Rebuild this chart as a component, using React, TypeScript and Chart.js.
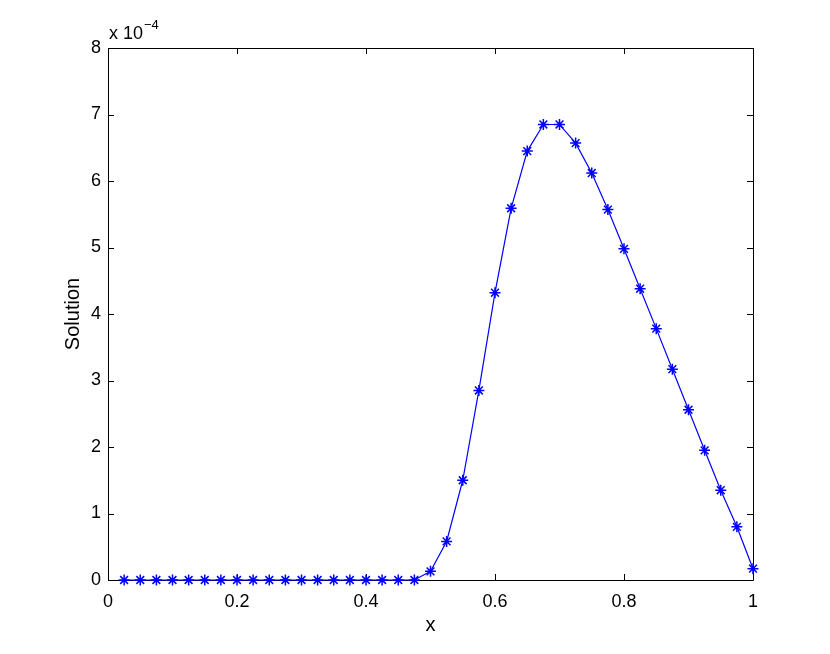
import React, { useEffect, useRef } from "react";
import { Chart, registerables } from "chart.js";

Chart.register(...registerables);

const xValues = [
  0.025, 0.05, 0.075, 0.1, 0.125, 0.15, 0.175, 0.2, 0.225, 0.25,
  0.275, 0.3, 0.325, 0.35, 0.375, 0.4, 0.425, 0.45, 0.475, 0.5,
  0.525, 0.55, 0.575, 0.6, 0.625, 0.65, 0.675, 0.7, 0.725, 0.75,
  0.775, 0.8, 0.825, 0.85, 0.875, 0.9, 0.925, 0.95, 0.975, 1.0,
];
// Solution values in units of 1e-4
const solution = [
  0, 0, 0, 0, 0, 0, 0, 0, 0, 0,
  0, 0, 0, 0, 0, 0, 0, 0, 0, 0.13,
  0.58, 1.5, 2.85, 4.32, 5.59, 6.45, 6.85, 6.85, 6.57, 6.12,
  5.57, 4.98, 4.38, 3.78, 3.17, 2.56, 1.95, 1.35, 0.8, 0.17,
];
const xTicks = [0, 0.2, 0.4, 0.6, 0.8, 1];
const yTicks = [0, 1, 2, 3, 4, 5, 6, 7, 8];

const FONT = "'Liberation Sans', Arial, Helvetica, sans-serif";

const boxPlugin = {
  id: "matlabBox",
  beforeDatasetsDraw(chart: any) {
    const { ctx, chartArea } = chart;
    const xs = chart.scales.x;
    const ys = chart.scales.y;
    const { left, right, top, bottom } = chartArea;
    const tl = 6;
    ctx.save();
    ctx.strokeStyle = "#000";
    ctx.lineWidth = 1;
    ctx.beginPath();
    ctx.rect(Math.round(left) + 0.5, Math.round(top) + 0.5, Math.round(right - left), Math.round(bottom - top));
    for (const v of xTicks) {
      const px = Math.round(xs.getPixelForValue(v)) + 0.5;
      ctx.moveTo(px, bottom);
      ctx.lineTo(px, bottom - tl);
      ctx.moveTo(px, top);
      ctx.lineTo(px, top + tl);
    }
    for (const v of yTicks) {
      const py = Math.round(ys.getPixelForValue(v)) + 0.5;
      ctx.moveTo(left, py);
      ctx.lineTo(left + tl, py);
      ctx.moveTo(right, py);
      ctx.lineTo(right - tl, py);
    }
    ctx.stroke();
    // exponent label
    ctx.fillStyle = "#000";
    ctx.textBaseline = "alphabetic";
    ctx.textAlign = "left";
    ctx.font = `18px ${FONT}`;
    const baseX = left + 1;
    const baseY = top - 9;
    ctx.fillText("x 10", baseX, baseY);
    const w = ctx.measureText("x 10").width;
    ctx.font = `13px ${FONT}`;
    ctx.fillText("\u22124", baseX + w + 1, baseY - 10);
    ctx.restore();
  },
};

export default function App() {
  const ref = useRef<HTMLCanvasElement>(null);
  useEffect(() => {
    if (!ref.current) return;
    const chart = new Chart(ref.current, {
      type: "scatter",
      data: {
        datasets: [
          {
            data: xValues.map((x, i) => ({ x, y: solution[i] })),
            showLine: true,
            borderColor: "#0000ff",
            backgroundColor: "#0000ff",
            borderWidth: 1.2,
            pointStyle: "star",
            pointRadius: 5.5,
            pointBorderWidth: 1.5,
            pointBorderColor: "#0000ff",
            clip: 8,
          },
        ],
      },
      plugins: [boxPlugin],
      options: {
        animation: false,
        responsive: false,
        events: [],
        layout: { padding: { left: 0, top: 48, right: 77, bottom: 0 } },
        plugins: { legend: { display: false }, tooltip: { enabled: false } },
        scales: {
          x: {
            type: "linear",
            min: 0,
            max: 1,
            afterFit: (s: any) => { s.height = 74; },
            afterBuildTicks: (s: any) => { s.ticks = xTicks.map((v) => ({ value: v })); },
            grid: { display: false, drawTicks: false },
            border: { display: false },
            ticks: {
              color: "#000",
              font: { family: FONT, size: 18 },
              padding: 11,
              maxRotation: 0,
              callback: (v: any) => String(v),
            },
            title: {
              display: true,
              text: "x",
              color: "#000",
              font: { family: FONT, size: 20 },
              padding: { top: 0, bottom: 17 },
            },
          },
          y: {
            type: "linear",
            min: 0,
            max: 8,
            afterFit: (s: any) => { s.width = 108; },
            afterBuildTicks: (s: any) => { s.ticks = yTicks.map((v) => ({ value: v })); },
            grid: { display: false, drawTicks: false },
            border: { display: false },
            ticks: {
              color: "#000",
              font: { family: FONT, size: 18 },
              padding: 7,
              callback: (v: any) => String(v),
            },
            title: {
              display: true,
              text: "Solution",
              color: "#000",
              font: { family: FONT, size: 20 },
              padding: { top: 61, bottom: 0 },
            },
          },
        },
      },
    });
    return () => chart.destroy();
  }, []);
  return (
    <div style={{ position: "fixed", left: 0, top: 0, width: 830, height: 654, background: "#fff" }}>
      <canvas ref={ref} width={830} height={654} style={{ width: 830, height: 654 }} />
    </div>
  );
}
